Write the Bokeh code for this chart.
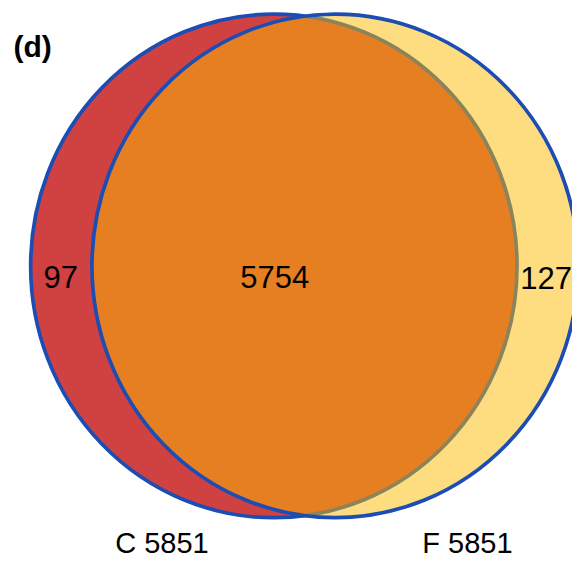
from bokeh.plotting import figure
from bokeh.models import Range1d, ColumnDataSource
from bokeh.core.properties import value
from bokeh.embed import file_html
from bokeh.resources import INLINE

# data
sets = ["C", "F"]
set_totals = [5851, 5851]
only_counts = [97, 127]
shared_count = 5754
panel_label = "(d)"

# layout: the chart's 588x576 frame drawn into a 572x560 figure
W, H = 572, 560
p = figure(width=W, height=H, output_backend="svg", toolbar_location=None,
           x_range=Range1d(0, 588), y_range=Range1d(576, 0),
           min_border=0)
p.axis.visible = False
p.grid.visible = False
p.outline_line_color = None
p.background_fill_color = "white"
p.border_fill_color = "white"

blue = "#1b4db4"
cx = [281, 344]
cy = 273
ew, eh = 500, 518

# left set
p.ellipse(x=cx[0], y=cy, width=ew, height=eh, fill_color="#d04242",
          line_color=blue, line_width=3.7)
# right set (semi-transparent fill)
p.ellipse(x=cx[1], y=cy, width=ew, height=eh, fill_color=(251, 187, 1),
          fill_alpha=0.5, line_color=None)
p.ellipse(x=cx[1], y=cy, width=ew, height=eh, fill_color=None,
          line_color=blue, line_width=3.7)

font = value("Liberation Sans")
count_src = ColumnDataSource(dict(
    x=[62, 282, 561], y=[284, 284, 285],
    t=[str(only_counts[0]), str(shared_count), str(only_counts[1])]))
p.text(x="x", y="y", text="t", source=count_src, text_font=font,
       text_font_size="31px", text_align="center", text_baseline="middle",
       text_color="black")

lab_src = ColumnDataSource(dict(
    x=[166, 480], y=[558, 558],
    t=[f"{s} {n}" for s, n in zip(sets, set_totals)]))
p.text(x="x", y="y", text="t", source=lab_src, text_font=font,
       text_font_size="29px", text_align="center", text_baseline="middle",
       text_color="black")

p.text(x=[33], y=[47], text=[panel_label], text_font=font,
       text_font_size="30px", text_font_style="bold", text_align="center",
       text_baseline="middle", text_color="black")

open("out.html", "w").write(file_html(p, INLINE))
